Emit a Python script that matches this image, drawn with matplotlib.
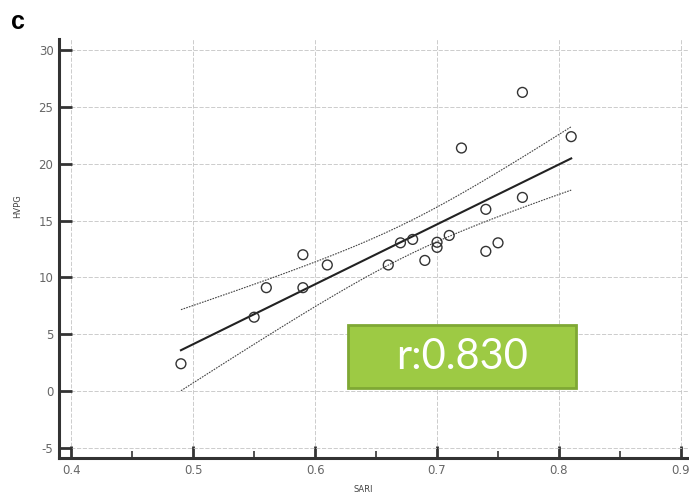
import numpy as np
import matplotlib
matplotlib.use("Agg")
import matplotlib.pyplot as plt
from matplotlib.ticker import MultipleLocator

plt.rcParams["axes.unicode_minus"] = False

# Data
sari = [0.49, 0.55, 0.56, 0.59, 0.59, 0.61, 0.66, 0.67, 0.68, 0.69,
        0.70, 0.70, 0.71, 0.72, 0.74, 0.74, 0.75, 0.77, 0.77, 0.81]
hvpg = [2.4, 6.5, 9.1, 9.1, 12.0, 11.1, 11.1, 13.05, 13.35, 11.5,
        13.1, 12.65, 13.7, 21.4, 16.0, 12.3, 13.05, 17.05, 26.3, 22.4]
r_label = "r:0.830"

x = np.array(sari)
y = np.array(hvpg)
n = len(x)

# Least squares fit and 95% confidence band of the mean
slope, intercept = np.polyfit(x, y, 1)
xs = np.linspace(x.min(), x.max(), 100)
ys = slope * xs + intercept
resid = y - (slope * x + intercept)
s = np.sqrt(np.sum(resid ** 2) / (n - 2))
t_val = 2.101  # t(0.975, df=18)
sxx = np.sum((x - x.mean()) ** 2)
half = t_val * s * np.sqrt(1.0 / n + (xs - x.mean()) ** 2 / sxx)

fig = plt.figure(figsize=(6.89, 4.95), dpi=100)
ax = fig.add_axes([59 / 689, 1 - 458 / 495, 1 - 59 / 689, (458 - 39) / 495])

ax.plot(xs, ys, color="#222222", lw=1.5)
ax.plot(xs, ys + half, color="#444444", lw=0.8, ls=(0, (1.5, 1)))
ax.plot(xs, ys - half, color="#444444", lw=0.8, ls=(0, (1.5, 1)))
ax.scatter(x, y, s=50, facecolors="none", edgecolors="#333333", linewidths=1.0, zorder=3)

ax.set_xlim(0.39, 0.9066)
ax.set_ylim(-5.9, 31)
ax.xaxis.set_minor_locator(MultipleLocator(0.05))
ax.yaxis.set_major_locator(MultipleLocator(5))
ax.set_xticks(np.arange(0.4, 0.95, 0.1))
ax.set_xticklabels(["0.4", "0.5", "0.6", "0.7", "0.8", "0.9"])

ax.grid(True, which="major", color="#c4c4c4", ls=(0, (5, 2)), lw=0.6)
for side in ["top", "right"]:
    ax.spines[side].set_visible(False)
for side in ["left", "bottom"]:
    ax.spines[side].set_linewidth(2.2)
    ax.spines[side].set_color("#333333")
ax.tick_params(axis="both", which="major", direction="in", length=9, width=2,
               color="#333333", labelcolor="#666666", labelsize=8.5)
ax.tick_params(axis="both", which="major", pad=4)
ax.tick_params(axis="x", which="minor", direction="in", length=5, width=1.2, color="#333333")

ax.set_xlabel("SARI", fontsize=6, color="#444444")
ax.xaxis.set_label_coords((363 - 59) / 630, -0.065)
ax.set_ylabel("HVPG", fontsize=6, color="#444444")
ax.yaxis.set_label_coords(-0.058, 0.6)

fig.text(11 / 689, 1 - 22 / 495, "c", fontsize=18, fontweight="bold", va="center",
         family="Liberation Sans")

# green annotation box
box = plt.Rectangle((348 / 689, 1 - 388 / 495), (576 - 348) / 689, (388 - 325) / 495,
                    transform=fig.transFigure, facecolor="#9dca44", edgecolor="#7fa834",
                    lw=2, zorder=5)
fig.patches.append(box)
fig.text(462 / 689, 1 - 357 / 495, r_label, fontsize=30, color="white",
         family="Lato", ha="center", va="center", zorder=6)

fig.savefig("out.png", dpi=100)
